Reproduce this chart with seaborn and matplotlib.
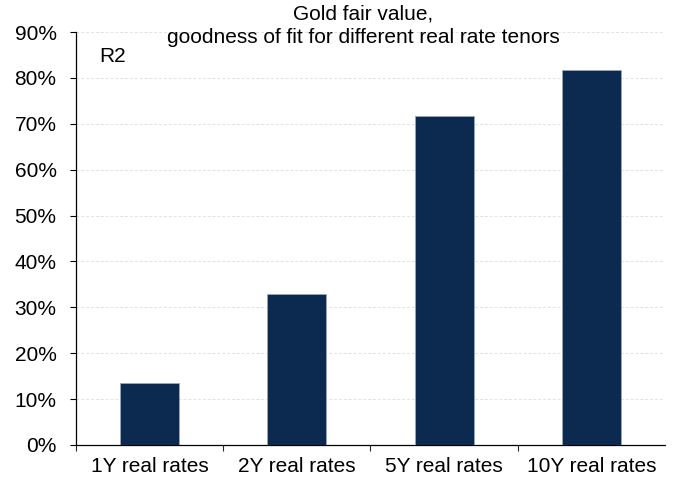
import matplotlib
matplotlib.use('Agg')
import matplotlib.pyplot as plt
import seaborn as sns
import pandas as pd
from matplotlib.ticker import PercentFormatter, FixedLocator

# data
tenors = ['1Y real rates', '2Y real rates', '5Y real rates', '10Y real rates']
r2_values = [13.5, 33.0, 71.7, 81.8]

df = pd.DataFrame({'tenor': tenors, 'r2': r2_values})

sns.set_style('white')
plt.rcParams['font.family'] = ['Liberation Sans', 'DejaVu Sans']
plt.rcParams['font.size'] = 15
plt.rcParams['text.color'] = 'black'

fig = plt.figure(figsize=(6.73, 4.79), dpi=100)
ax = fig.add_axes([0.113, 0.071, 0.875, 0.862])

sns.barplot(data=df, x='tenor', y='r2', color='#0C2A50', width=0.4,
            saturation=1, edgecolor='#9aa6b8', linewidth=0.6, ax=ax, zorder=3)

ax.set_ylim(0, 90)
ax.set_xlim(-0.5, 3.5)
ax.set_yticks(range(0, 91, 10))
ax.yaxis.set_major_formatter(PercentFormatter(decimals=0))
ax.yaxis.grid(True, color='#e2e2e2', linestyle=(0, (3, 2)), linewidth=0.7, zorder=0)
ax.set_xlabel('')
ax.set_ylabel('')

# category boundary ticks on the x axis
ax.xaxis.set_minor_locator(FixedLocator([-0.5, 0.5, 1.5, 2.5]))
ax.tick_params(axis='x', which='major', length=0, pad=9, colors='black', labelsize=15)
ax.tick_params(axis='x', which='minor', length=4, width=0.8, direction='out', bottom=True)
ax.tick_params(axis='y', length=4, width=0.8, direction='out', left=True, colors='black',
               pad=10, labelsize=15)

for side in ['top', 'right']:
    ax.spines[side].set_visible(False)
for side in ['left', 'bottom']:
    ax.spines[side].set_color('black')
    ax.spines[side].set_linewidth(0.9)

ax.text(0.04, 0.94, 'R2', transform=ax.transAxes, fontsize=15, va='center')

fig.text(0.54, 0.99, 'Gold fair value,\ngoodness of fit for different real rate tenors',
         ha='center', va='top', fontsize=15, linespacing=1.25)

fig.savefig('out.png', dpi=100)
